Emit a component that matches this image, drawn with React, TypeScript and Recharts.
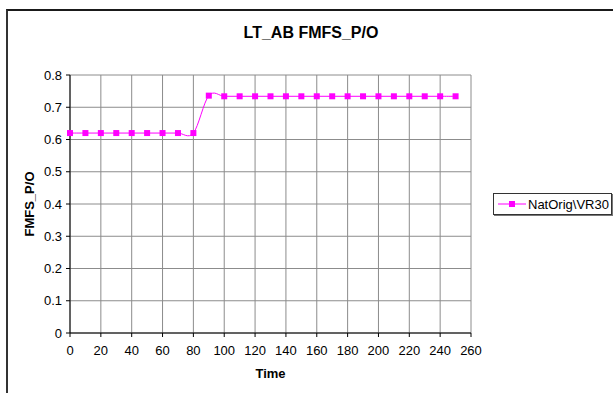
import { CartesianGrid, Line, LineChart, XAxis, YAxis } from "recharts";

const TIMES = [0, 10, 20, 30, 40, 50, 60, 70, 80, 90, 100, 110, 120, 130, 140, 150, 160, 170, 180, 190, 200, 210, 220, 230, 240, 250];
const FMFS_PO = [
  0.62, 0.62, 0.62, 0.62, 0.62, 0.62, 0.62, 0.62, 0.62, 0.736, 0.734, 0.734, 0.734,
  0.734, 0.734, 0.734, 0.734, 0.734, 0.734, 0.734, 0.734, 0.734, 0.734, 0.734, 0.734, 0.734,
];
const X_TICKS = [0, 20, 40, 60, 80, 100, 120, 140, 160, 180, 200, 220, 240, 260];
const Y_TICKS = [0, 0.1, 0.2, 0.3, 0.4, 0.5, 0.6, 0.7, 0.8];
const SERIES_NAME = "NatOrig\\VR30";

const MAGENTA = "#FF00FF";
const GRID = "#8c8c8c";
const FONT = "'Liberation Sans', Arial, sans-serif";

const data = TIMES.map((t, i) => ({ time: t, value: FMFS_PO[i] }));

// excel-ish smoothed line (catmull-rom through the points)
function excelSmooth(context: any) {
  let pts: number[][] = [];
  return {
    areaStart() {},
    areaEnd() {},
    lineStart() {
      pts = [];
    },
    point(x: number, y: number) {
      pts.push([+x, +y]);
    },
    lineEnd() {
      const n = pts.length;
      if (!n) return;
      context.moveTo(pts[0][0], pts[0][1]);
      for (let i = 0; i < n - 1; i++) {
        const p0 = pts[i - 1] || pts[i];
        const p1 = pts[i];
        const p2 = pts[i + 1];
        const p3 = pts[i + 2] || p2;
        context.bezierCurveTo(
          p1[0] + (p2[0] - p0[0]) / 6,
          p1[1] + (p2[1] - p0[1]) / 6,
          p2[0] - (p3[0] - p1[0]) / 6,
          p2[1] - (p3[1] - p1[1]) / 6,
          p2[0],
          p2[1]
        );
      }
    },
  };
}

const SquareDot = (props: any) => {
  const { cx, cy, index } = props;
  if (cx == null || cy == null) return null;
  return <rect key={`dot-${index}`} x={cx - 3} y={cy - 3} width={6} height={6} fill={MAGENTA} />;
};

function LegendBox() {
  return (
    <div
      style={{
        position: "absolute",
        left: 493,
        top: 193,
        width: 117,
        height: 20,
        border: "1px solid #333",
        boxShadow: "1px 1px 0 #777",
        background: "#fff",
        display: "flex",
        alignItems: "center",
        fontFamily: FONT,
        fontSize: 13,
        color: "#000",
        boxSizing: "content-box",
      }}
    >
      <svg width={34} height={20} style={{ display: "block" }}>
        <line x1={4} y1={10} x2={32} y2={10} stroke={MAGENTA} strokeWidth={1} />
        <rect x={15} y={7} width={6} height={6} fill={MAGENTA} />
      </svg>
      <span>{SERIES_NAME}</span>
    </div>
  );
}

export default function App() {
  const tick = { fill: "#000", fontSize: 13, fontFamily: FONT };
  return (
    <div style={{ position: "fixed", left: 0, top: 0, width: 613, height: 393, background: "#fff", overflow: "hidden" }}>
      <div
        style={{
          position: "absolute",
          left: 6,
          top: 9,
          width: 700,
          height: 500,
          borderTop: "2px solid #1a1a1a",
          borderLeft: "2px solid #333",
        }}
      />
      <div
        style={{
          position: "absolute",
          left: 0,
          width: 622,
          top: 24,
          textAlign: "center",
          fontFamily: FONT,
          fontWeight: "bold",
          fontSize: 16,
          color: "#000",
        }}
      >
        LT_AB FMFS_P/O
      </div>
      <div
        style={{
          position: "absolute",
          left: 70,
          width: 401,
          top: 366,
          textAlign: "center",
          fontFamily: FONT,
          fontWeight: "bold",
          fontSize: 13,
          color: "#000",
        }}
      >
        Time
      </div>
      <div
        style={{
          position: "absolute",
          left: 29,
          top: 204,
          transform: "translate(-50%, -50%) rotate(-90deg)",
          whiteSpace: "nowrap",
          fontFamily: FONT,
          fontWeight: "bold",
          fontSize: 13,
          color: "#000",
        }}
      >
        FMFS_P/O
      </div>
      <div style={{ position: "absolute", left: 0, top: 0 }}>
        <LineChart width={613} height={393} data={data} margin={{ top: 75, right: 142, bottom: 30, left: 30 }}>
          <CartesianGrid stroke={GRID} strokeWidth={1} />
          <XAxis
            type="number"
            dataKey="time"
            domain={[0, 260]}
            ticks={X_TICKS}
            interval={0}
            tick={tick}
            tickSize={4}
            tickMargin={9}
            axisLine={{ stroke: "#000" }}
            tickLine={{ stroke: "#000" }}
            height={30}
          />
          <YAxis
            type="number"
            domain={[0, 0.8]}
            ticks={Y_TICKS}
            interval={0}
            tick={tick}
            tickSize={4}
            tickMargin={4}
            axisLine={{ stroke: "#000" }}
            tickLine={{ stroke: "#000" }}
            width={40}
          />
          <Line
            type={excelSmooth as any}
            dataKey="value"
            name={SERIES_NAME}
            stroke={MAGENTA}
            strokeWidth={1}
            dot={SquareDot}
            activeDot={false}
            isAnimationActive={false}
          />
        </LineChart>
      </div>
      <LegendBox />
    </div>
  );
}
